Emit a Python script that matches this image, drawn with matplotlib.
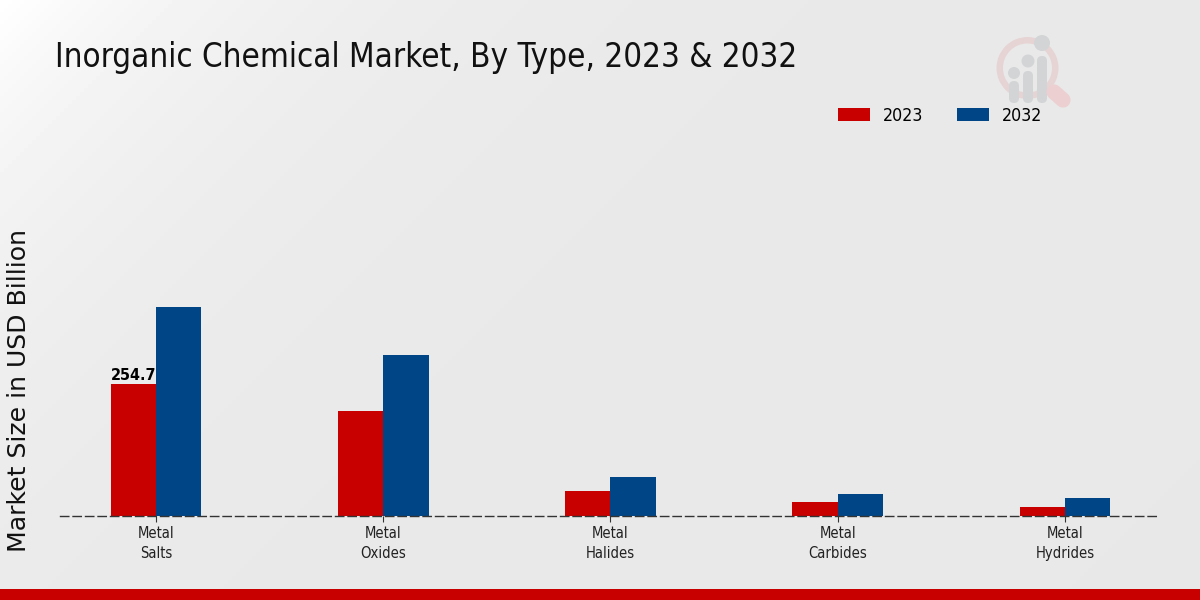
import matplotlib
matplotlib.use("Agg")
import matplotlib.pyplot as plt
from matplotlib.patches import Circle, Wedge, FancyBboxPatch
import numpy as np

# Values
categories = ["Metal\nSalts", "Metal\nOxides", "Metal\nHalides", "Metal\nCarbides", "Metal\nHydrides"]
values_2023 = [254.7, 202.6, 48.0, 27.0, 17.4]
values_2032 = [403.0, 310.7, 75.0, 42.5, 34.0]

RED = "#c80000"
BLUE = "#004687"

fig = plt.figure(figsize=(12, 6), dpi=100)

# Background layer in pixel coordinates
bg = fig.add_axes([0, 0, 1, 1], zorder=0)
gx, gy = np.meshgrid(np.arange(0, 1200, 4), np.arange(0, 600, 4))
shade = 1 - 0.09 * (1 - np.exp(-(gx + gy) / 260))
bg.imshow(shade, cmap="gray", vmin=0, vmax=1, extent=(0, 1200, 600, 0), aspect="auto")
bg.set_xlim(0, 1200)
bg.set_ylim(600, 0)
bg.axis("off")
bg.axhspan(589, 600, color=RED, lw=0)

# Logo
bg.add_patch(Wedge((1027.5, 68), 31, 0, 360, width=6.5, color="#e6d4d5", lw=0))
bg.plot([1054, 1063], [92, 100], color="#ecd0d1", lw=11, solid_capstyle="round")
for px, bar_top, cy, r in [(1014, 81, 73, 6), (1028, 71, 61, 6.5), (1042, 56, 43, 8)]:
    bg.add_patch(Circle((px, cy), r, color="#d2d4d6", lw=0))
    bg.add_patch(FancyBboxPatch((px - 5, bar_top), 10, 103 - bar_top, boxstyle="round,pad=0,rounding_size=5",
                                color="#d2d4d6", lw=0))

# Chart
ax = fig.add_axes([60 / 1200, 84 / 600, 1100 / 1200, 416 / 600], zorder=1)
ax.patch.set_alpha(0)
x = np.arange(len(categories))
w = 0.2
ax.bar(x - w / 2, values_2023, w, color=RED, label="2023")
ax.bar(x + w / 2, values_2032, w, color=BLUE, label="2032")
ax.set_xlim(-0.4224, 4.4180)
ax.set_ylim(0, 802.7)
for s in ["top", "left", "right"]:
    ax.spines[s].set_visible(False)
ax.spines["bottom"].set_linewidth(1)
ax.spines["bottom"].set_linestyle((0, (6, 3)))
ax.spines["bottom"].set_color("#333333")
ax.spines["bottom"].set_zorder(5)
ax.set_yticks([])
ax.set_xticks(x)
ax.set_xticklabels(categories, fontsize=10.6, stretch="condensed", color="#222222", linespacing=1.35)
ax.tick_params(axis="x", length=4, width=0.8, color="#333333", pad=3.5)

ax.annotate(f"{values_2023[0]}", (x[0] - w / 2, values_2023[0]), ha="center", va="bottom",
            xytext=(0, 1), textcoords="offset points", fontsize=11.5, fontweight="bold", color="black",
            stretch="condensed")

fig.text(55 / 1200, 1 - 58 / 600, "Inorganic Chemical Market, By Type, 2023 & 2032", fontsize=23.75,
         stretch="condensed", va="center", ha="left", color="#111111")
fig.text(19 / 1200, 1 - 391 / 600, "Market Size in USD Billion", fontsize=18.1, rotation=90,
         va="center", ha="center", color="#111111")

leg = ax.legend(loc="upper left", bbox_to_anchor=(838 / 1200, 1 - 107 / 600), bbox_transform=fig.transFigure,
                ncol=2, frameon=False, fontsize=12.8, handlelength=1.8, handleheight=0.73, columnspacing=1.9,
                handletextpad=0.73, borderpad=0, borderaxespad=0)
for t in leg.get_texts():
    t.set_stretch("condensed")

fig.savefig("out.png", dpi=100)
